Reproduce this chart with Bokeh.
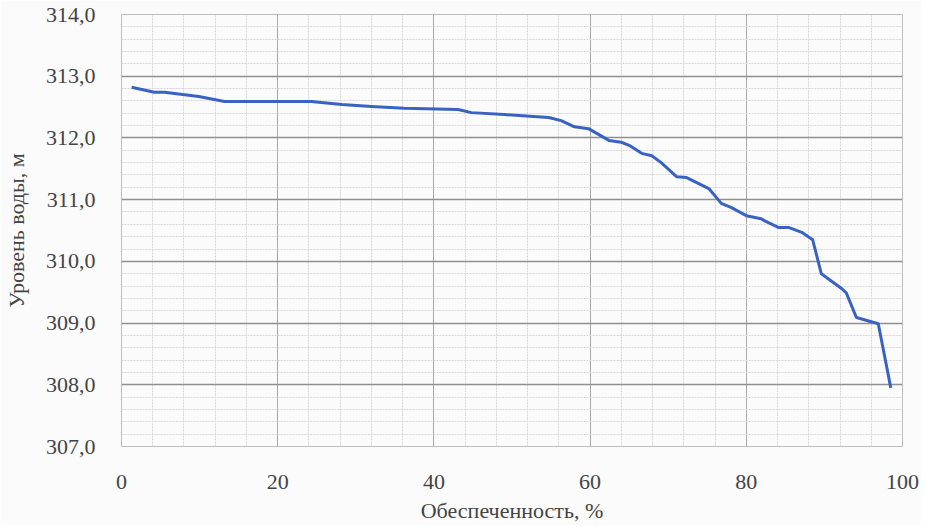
from bokeh.plotting import figure
from bokeh.models import CustomJSTickFormatter, FixedTicker, Range1d
from bokeh.embed import file_html
from bokeh.resources import INLINE

# Data
supply_pct = [1.3, 4.2, 5.5, 9.9, 13.2, 24.3, 28.2, 32.0, 35.0, 36.2, 43.1, 44.8,
              49.0, 54.7, 56.3, 58.0, 59.8, 62.4, 64.0, 65.0, 66.6, 67.9, 69.1,
              71.1, 72.3, 75.2, 76.8, 78.1, 80.0, 81.9, 82.3, 84.1, 85.4, 87.1,
              88.5, 89.6, 92.2, 92.8, 94.1, 96.9, 98.5]
water_level = [312.82, 312.74, 312.74, 312.67, 312.59, 312.59, 312.54, 312.51,
               312.49, 312.48, 312.46, 312.41, 312.38, 312.33, 312.28, 312.18,
               312.15, 311.96, 311.93, 311.88, 311.75, 311.71, 311.60, 311.37,
               311.36, 311.18, 310.94, 310.87, 310.74, 310.69, 310.66, 310.55,
               310.55, 310.47, 310.35, 309.80, 309.56, 309.49, 309.09, 308.99,
               307.95]
x_ticks = [0, 20, 40, 60, 80, 100]
y_ticks = [307, 308, 309, 310, 311, 312, 313, 314]
x_minor = [v for v in range(0, 101, 4) if v % 20 != 0]
y_minor = [round(307 + i * 0.2, 1) for i in range(36) if i % 5 != 0]

FONT = "'Times New Roman', 'Liberation Serif', serif"
TXT = "#444444"

p = figure(frame_width=781, frame_height=432,
           min_border_left=114, min_border_right=19, min_border_top=14, min_border_bottom=65,
           x_range=Range1d(0, 100), y_range=Range1d(307, 314),
           output_backend="svg", toolbar_location=None,
           background_fill_color="#fbfbfb", border_fill_color="#fbfbfb")
p.outline_line_color = "#bdbdbd"

p.xaxis.ticker = FixedTicker(ticks=x_ticks, minor_ticks=x_minor)
p.yaxis.ticker = FixedTicker(ticks=y_ticks, minor_ticks=y_minor)
p.yaxis.formatter = CustomJSTickFormatter(code="return tick.toFixed(1).replace('.', ',');")

for ax in (p.xaxis, p.yaxis):
    ax.axis_line_color = None
    ax.major_tick_line_color = None
    ax.minor_tick_line_color = None
    ax.major_label_text_font = FONT
    ax.major_label_text_font_size = "22px"
    ax.major_label_text_color = TXT
    ax.axis_label_text_font = FONT
    ax.axis_label_text_font_size = "22px"
    ax.axis_label_text_font_style = "normal"
    ax.axis_label_text_color = TXT

p.xaxis.axis_label = "Обеспеченность, %"
p.yaxis.axis_label = "Уровень воды, м"
p.xaxis.major_label_standoff = 22
p.xaxis.axis_label_standoff = 6
p.yaxis.major_label_standoff = 20
p.yaxis.axis_label_standoff = 14

p.xgrid.grid_line_color = "#a8a8a8"
p.ygrid.grid_line_color = "#909090"
p.xgrid.grid_line_width = 1
p.ygrid.grid_line_width = 1.5
for g in (p.xgrid, p.ygrid):
    g.minor_grid_line_color = "#d6d6d6"
    g.minor_grid_line_dash = "2 1"
    g.minor_grid_line_width = 1

p.line(supply_pct, water_level, line_color="#3a62c2", line_width=3, line_join="round")

open("out.html", "w").write(file_html(p, INLINE))
